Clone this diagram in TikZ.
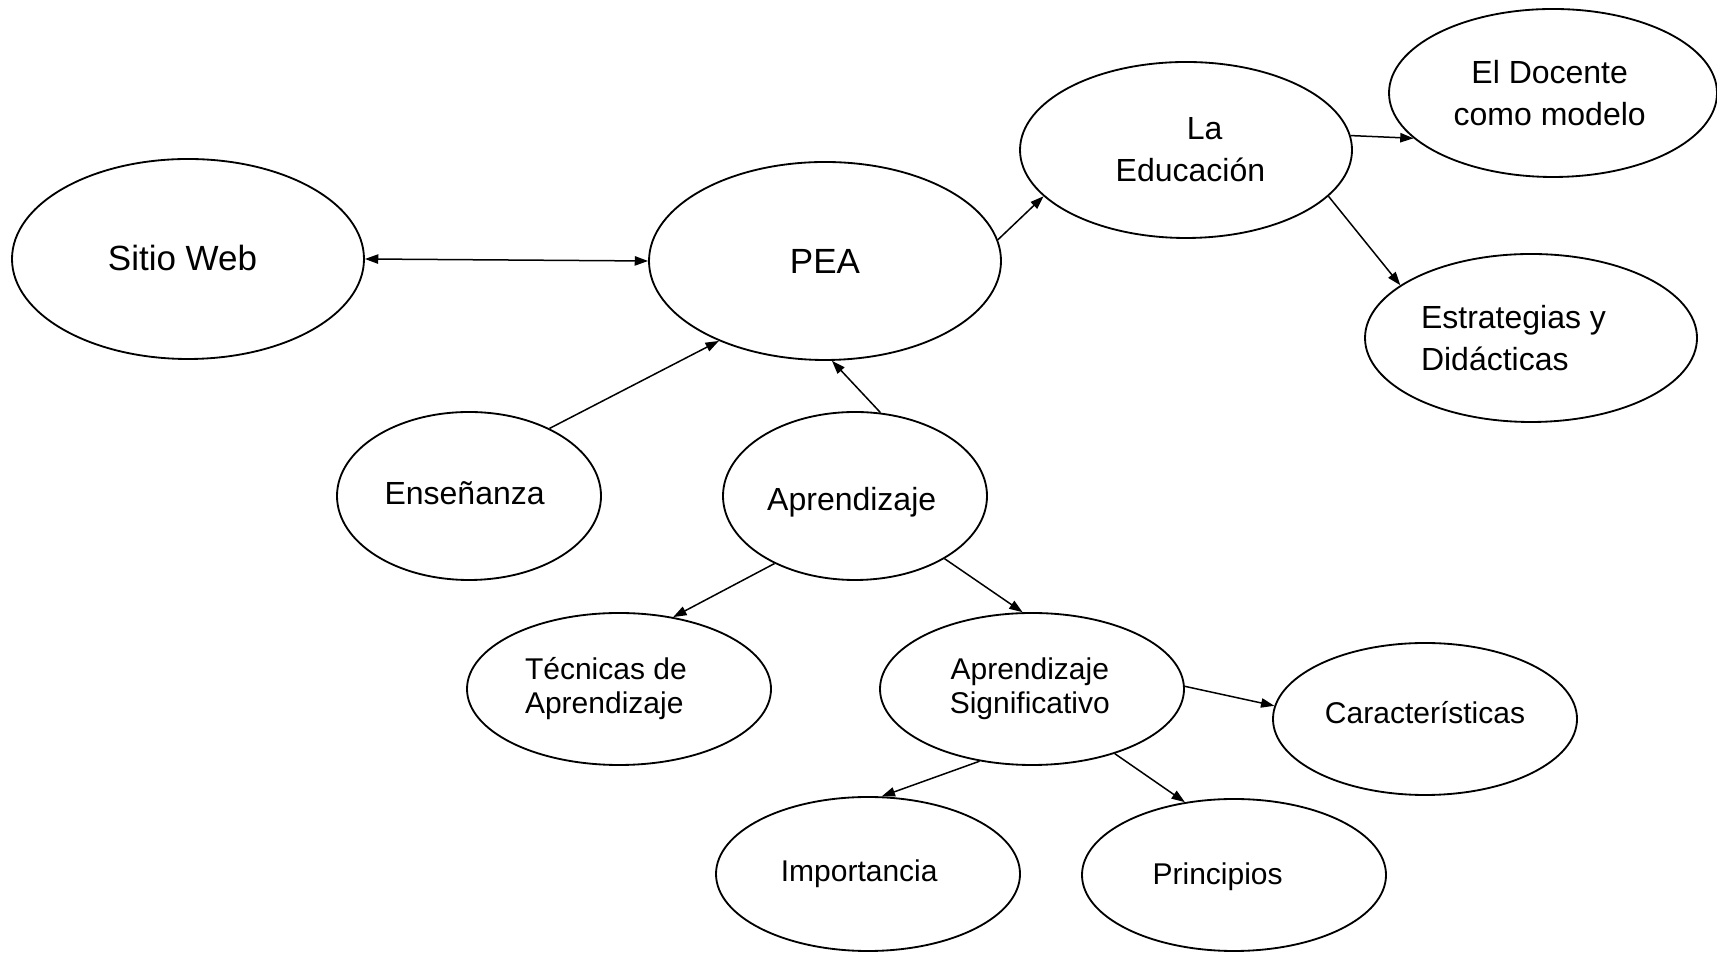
\documentclass[tikz,border=0pt]{standalone}
\usepackage{fontspec}
\setmainfont{Liberation Sans}
\usetikzlibrary{shapes.geometric,arrows.meta}
\begin{document}
\begin{tikzpicture}[x=0.3pt,y=-0.3pt,
  el/.style 2 args={draw, ellipse, line width=0.55pt, inner sep=0pt, minimum width=#1*0.3pt, minimum height=#2*0.3pt},
  txt/.style={inner sep=0pt},
  big/.style={txt, font=\fontsize{10.5}{12.6}\selectfont},
  mid/.style={txt, font=\fontsize{9.6}{12.6}\selectfont, align=center},
  sml/.style={txt, font=\fontsize{9}{10.2}\selectfont, align=center},
  arr/.style={-{Triangle[length=4pt,width=2.8pt]}, line width=0.45pt},
  darr/.style={{Triangle[length=4pt,width=2.8pt]}-{Triangle[length=4pt,width=2.8pt]}, line width=0.45pt},
]
\useasboundingbox (0,0) rectangle (1717,953);

% ellipses
\node[el={352}{200}] (sitio) at (188,259) {};
\node[el={352}{198}] (pea) at (825,261) {};
\node[el={332}{176}] (edu) at (1186,150) {};
\node[el={328}{168}] (doc) at (1553,93) {};
\node[el={332}{168}] (est) at (1531,338) {};
\node[el={264}{168}] (ens) at (469,496) {};
\node[el={264}{168}] (apr) at (855,496) {};
\node[el={304}{152}] (tec) at (619,689) {};
\node[el={304}{152}] (sig) at (1032,689) {};
\node[el={304}{152}] (car) at (1425,719) {};
\node[el={304}{154}] (imp) at (868,874) {};
\node[el={304}{152}] (pri) at (1234,875) {};

% texts
\node[big] (sitio-t) at ([shift={(-5.5,-1)}]sitio.center) {Sitio Web};
\node[big] (pea-t) at (pea.center) {PEA};
\node[mid] (edu-t) at ([shift={(4.4,0)}]edu.center) {\hspace*{8.6pt}La\\Educación};
\node[mid] (doc-t) at ([shift={(-3.3,0)}]doc.center) {El Docente\\como modelo};
\node[mid, align=left] (est-t) at ([shift={(-17.5,0)}]est.center) {Estrategias y\\Didácticas};
\node[mid] (ens-t) at ([shift={(-4.4,-3.3)}]ens.center) {Enseñanza};
\node[mid] (apr-t) at ([shift={(-3.3,6.6)}]apr.center) {Aprendizaje};
\node[sml, align=left] (tec-t) at ([shift={(-13.1,0)}]tec.center) {Técnicas de\\Aprendizaje};
\node[sml] (sig-t) at ([shift={(-2.2,0)}]sig.center) {Aprendizaje\\Significativo};
\node[sml] (car-t) at ([shift={(0,-6.6)}]car.center) {Características};
\node[sml] (imp-t) at ([shift={(-8.8,0)}]imp.center) {Importancia};
\node[sml] (pri-t) at ([shift={(-16.4,2.2)}]pri.center) {Principios};

% connectors
\draw[darr] (sitio.east) -- (pea.west);
\draw[arr] (pea.7) -- (edu.198);
\draw[arr] (edu.5) -- (doc.198);
\draw[arr] (edu.-18) -- (est.158);
\draw[arr] (ens.40) -- (pea.217);
\draw[arr] (apr.73) -- (pea.274);
\draw[arr] (apr.220) -- (tec.53);
\draw[arr] (apr.-35) -- (sig.97);
\draw[arr] (sig.1) -- (car.175);
\draw[arr] (sig.234) -- (imp.80);
\draw[arr] (sig.-38) -- (pri.124);
\end{tikzpicture}
\end{document}
